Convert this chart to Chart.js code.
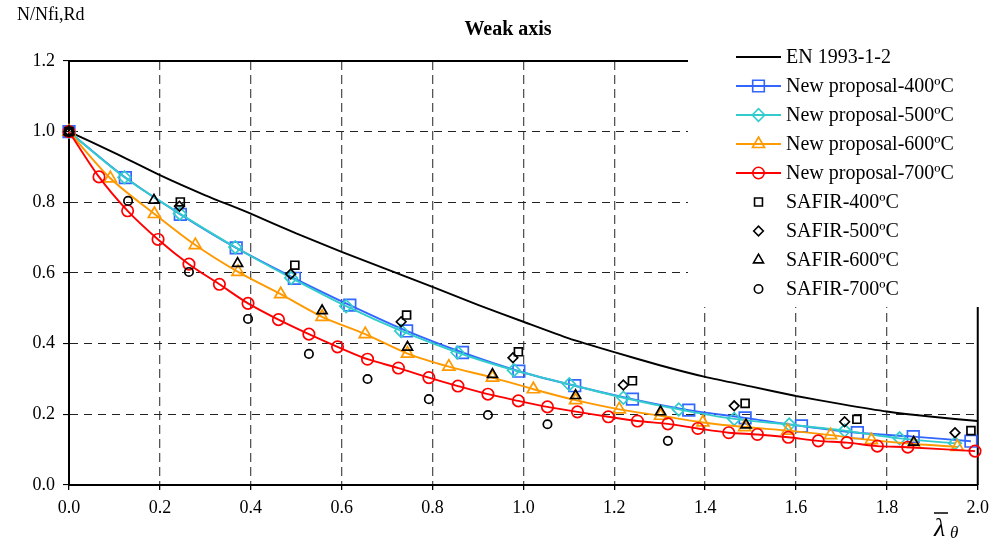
<!DOCTYPE html>
<html>
<head>
<meta charset="utf-8">
<script src="https://cdn.jsdelivr.net/npm/chart.js@4.4.1/dist/chart.umd.min.js"></script>
<style>
  body { margin: 0; background: #fff; }
</style>
</head>
<body>
<canvas id="weakAxisChart" width="996" height="542"></canvas>
<script>
// Dados
const enX = [0, 0.1, 0.2, 0.3, 0.4, 0.5, 0.6, 0.7, 0.8, 0.9, 1.0, 1.1, 1.2, 1.3, 1.4, 1.5, 1.6, 1.7, 1.8, 1.9, 2.0];
const enY = [1.0, 0.94, 0.877, 0.82, 0.768, 0.712, 0.66, 0.61, 0.561, 0.51, 0.462, 0.415, 0.376, 0.339, 0.306, 0.279, 0.252, 0.229, 0.208, 0.193, 0.181];

const np400X = [0, 0.124, 0.245, 0.368, 0.496, 0.618, 0.743, 0.866, 0.99, 1.113, 1.24, 1.364, 1.488, 1.612, 1.735, 1.858, 1.985];
const np400Y = [1.0, 0.87, 0.766, 0.671, 0.585, 0.509, 0.436, 0.375, 0.322, 0.281, 0.243, 0.212, 0.19, 0.167, 0.148, 0.137, 0.124];

const np500X = [0, 0.122, 0.244, 0.366, 0.489, 0.61, 0.731, 0.855, 0.979, 1.101, 1.22, 1.342, 1.464, 1.585, 1.707, 1.828, 1.95];
const np500Y = [1.0, 0.871, 0.768, 0.673, 0.586, 0.506, 0.436, 0.375, 0.325, 0.285, 0.247, 0.214, 0.187, 0.171, 0.154, 0.132, 0.118];

const np600X = [0, 0.091, 0.188, 0.278, 0.372, 0.466, 0.557, 0.652, 0.745, 0.836, 0.932, 1.022, 1.115, 1.211, 1.302, 1.395, 1.487, 1.582, 1.676, 1.766, 1.86, 1.955];
const np600Y = [1.0, 0.868, 0.767, 0.679, 0.603, 0.54, 0.476, 0.427, 0.372, 0.335, 0.304, 0.271, 0.24, 0.214, 0.196, 0.177, 0.164, 0.154, 0.141, 0.127, 0.116, 0.108];

const np700X = [0, 0.066, 0.129, 0.196, 0.264, 0.331, 0.394, 0.461, 0.528, 0.591, 0.657, 0.725, 0.792, 0.856, 0.922, 0.989, 1.053, 1.119, 1.187, 1.251, 1.318, 1.384, 1.452, 1.515, 1.583, 1.649, 1.712, 1.779, 1.846, 1.994];
const np700Y = [1.0, 0.872, 0.776, 0.695, 0.625, 0.568, 0.514, 0.468, 0.427, 0.391, 0.356, 0.331, 0.304, 0.28, 0.257, 0.238, 0.221, 0.207, 0.193, 0.181, 0.173, 0.16, 0.148, 0.143, 0.135, 0.125, 0.12, 0.11, 0.107, 0.096];

const safir400X = [0, 0.245, 0.497, 0.743, 0.989, 1.24, 1.488, 1.734, 1.985];
const safir400Y = [1.0, 0.801, 0.622, 0.481, 0.377, 0.295, 0.231, 0.186, 0.154];

const safir500X = [0, 0.243, 0.488, 0.731, 0.977, 1.22, 1.464, 1.707, 1.95];
const safir500Y = [1.0, 0.789, 0.597, 0.462, 0.36, 0.283, 0.224, 0.179, 0.148];

const safir600X = [0, 0.187, 0.371, 0.557, 0.745, 0.932, 1.115, 1.302, 1.49, 1.859];
const safir600Y = [1.0, 0.806, 0.627, 0.493, 0.39, 0.313, 0.253, 0.207, 0.17, 0.121];

const safir700X = [0, 0.13, 0.264, 0.394, 0.528, 0.657, 0.792, 0.922, 1.053, 1.318];
const safir700Y = [1.0, 0.804, 0.603, 0.47, 0.371, 0.3, 0.243, 0.198, 0.172, 0.125];

const xTicks = [0, 0.2, 0.4, 0.6, 0.8, 1.0, 1.2, 1.4, 1.6, 1.8, 2.0];
const yTicks = [0, 0.2, 0.4, 0.6, 0.8, 1.0, 1.2];

const serif = "'Liberation Serif', 'Times New Roman', serif";

function pts(xs, ys) {
  return xs.map((x, i) => ({ x: x, y: ys[i] }));
}

function curve(label, xs, ys, color, style, r, order) {
  return {
    label: label,
    data: pts(xs, ys),
    borderColor: color,
    backgroundColor: "transparent",
    borderWidth: 1.9,
    pointStyle: style,
    pointRadius: r,
    pointBorderWidth: 1.7,
    pointBorderColor: color,
    pointBackgroundColor: "transparent",
    tension: 0.3,
    showLine: true,
    clip: false,
    order: order,
  };
}

function scatter(label, xs, ys, style, r) {
  return {
    label: label,
    data: pts(xs, ys),
    borderColor: "#000",
    backgroundColor: "transparent",
    pointStyle: style,
    pointRadius: r,
    pointBorderWidth: 1.7,
    pointBorderColor: "#000",
    pointBackgroundColor: "transparent",
    showLine: false,
    clip: false,
    order: 0,
  };
}

const datasets = [
  {
    label: "EN 1993-1-2",
    data: pts(enX, enY),
    borderColor: "#000",
    borderWidth: 1.9,
    pointRadius: 0,
    showLine: true,
    tension: 0.2,
    clip: false,
    order: 6,
  },
  curve("New proposal-400ºC", np400X, np400Y, "#3366FF", "rect", 8.2, 4),
  curve("New proposal-500ºC", np500X, np500Y, "#33CCCC", "rectRot", 6.3, 3),
  curve("New proposal-600ºC", np600X, np600Y, "#FF9900", "triangle", 7, 2),
  curve("New proposal-700ºC", np700X, np700Y, "#FF0000", "circle", 5.7, 1),
  scatter("SAFIR-400ºC", safir400X, safir400Y, "rect", 5.6),
  scatter("SAFIR-500ºC", safir500X, safir500Y, "rectRot", 4.8),
  scatter("SAFIR-600ºC", safir600X, safir600Y, "triangle", 5.8),
  scatter("SAFIR-700ºC", safir700X, safir700Y, "circle", 4.2),
];

// marcador simples para a legenda
function drawMarker(ctx, style, r, x, y) {
  ctx.beginPath();
  if (style === "rect") {
    const s = Math.SQRT1_2 * r;
    ctx.rect(x - s, y - s, 2 * s, 2 * s);
  } else if (style === "rectRot") {
    ctx.moveTo(x - r, y);
    ctx.lineTo(x, y - r);
    ctx.lineTo(x + r, y);
    ctx.lineTo(x, y + r);
    ctx.closePath();
  } else if (style === "triangle") {
    ctx.moveTo(x, y - r);
    ctx.lineTo(x + r * 0.866, y + r * 0.5);
    ctx.lineTo(x - r * 0.866, y + r * 0.5);
    ctx.closePath();
  } else {
    ctx.arc(x, y, r, 0, Math.PI * 2);
  }
  ctx.stroke();
}

const decorPlugin = {
  id: "decor",
  beforeDatasetsDraw(chart) {
    const { ctx, chartArea } = chart;
    ctx.save();
    ctx.strokeStyle = "#000";
    ctx.lineWidth = 2;
    ctx.beginPath();
    ctx.moveTo(chartArea.left, chartArea.top);
    ctx.lineTo(chartArea.right, chartArea.top);
    ctx.moveTo(chartArea.right, chartArea.top);
    ctx.lineTo(chartArea.right, chartArea.bottom);
    ctx.stroke();
    // caixa branca da legenda por cima da grelha
    ctx.fillStyle = "#fff";
    ctx.fillRect(688, 0, 996 - 688, 307);
    ctx.restore();
  },
  afterDraw(chart) {
    const { ctx } = chart;
    ctx.save();
    ctx.fillStyle = "#000";
    ctx.textBaseline = "middle";

    ctx.font = "18px " + serif;
    ctx.textAlign = "left";
    ctx.fillText("N/Nfi,Rd", 17, 15);

    ctx.font = "bold 20px " + serif;
    ctx.textAlign = "center";
    ctx.fillText("Weak axis", 508, 30);

    // titulo do eixo x
    ctx.textAlign = "left";
    ctx.textBaseline = "alphabetic";
    ctx.font = "italic 26px " + serif;
    ctx.fillText("λ", 934, 536);
    ctx.font = "italic 17px " + serif;
    ctx.fillText("θ", 950, 538);
    ctx.strokeStyle = "#000";
    ctx.lineWidth = 1.5;
    ctx.beginPath();
    ctx.moveTo(934, 513);
    ctx.lineTo(948, 513);
    ctx.stroke();

    // legenda
    ctx.font = "20px " + serif;
    ctx.textBaseline = "middle";
    chart.data.datasets.forEach((ds, i) => {
      const y = 57 + i * 29;
      ctx.strokeStyle = ds.borderColor;
      ctx.lineWidth = 1.8;
      if (ds.showLine) {
        ctx.beginPath();
        ctx.moveTo(736, y);
        ctx.lineTo(781, y);
        ctx.stroke();
      }
      if (ds.pointRadius) {
        ctx.lineWidth = 1.6;
        drawMarker(ctx, ds.pointStyle, ds.pointRadius, 758.5, y);
      }
      ctx.fillStyle = "#000";
      ctx.fillText(ds.label, 786, y + 1);
    });
    ctx.restore();
  },
};

const ctx = document.getElementById("weakAxisChart").getContext("2d");

new Chart(ctx, {
  type: "scatter",
  data: { datasets: datasets },
  plugins: [decorPlugin],
  options: {
    responsive: false,
    animation: false,
    events: [],
    layout: { padding: { top: 61, right: 14, left: 0, bottom: 0 } },
    plugins: {
      legend: { display: false },
      title: { display: false },
      tooltip: { enabled: false },
    },
    scales: {
      x: {
        type: "linear",
        min: 0,
        max: 2,
        afterFit: (s) => { s.height = 57; },
        afterBuildTicks: (s) => { s.ticks = xTicks.map((v) => ({ value: v })); },
        ticks: {
          callback: (v) => v.toFixed(1),
          color: "#000",
          font: { family: serif, size: 18 },
          padding: 7,
          maxRotation: 0,
        },
        grid: {
          color: (c) => (c.tick && (c.tick.value === 0 || c.tick.value === 2) ? "transparent" : "#555"),
          lineWidth: 1.3,
          tickColor: "#000",
          tickLength: 5,
          tickBorderDash: [],
        },
        border: { display: true, color: "#000", width: 2, dash: [9, 5] },
      },
      y: {
        type: "linear",
        min: 0,
        max: 1.2,
        afterFit: (s) => { s.width = 69; },
        afterBuildTicks: (s) => { s.ticks = yTicks.map((v) => ({ value: v })); },
        ticks: {
          callback: (v) => v.toFixed(1),
          color: "#000",
          font: { family: serif, size: 18 },
          padding: 8,
        },
        grid: {
          color: (c) => (c.tick && (c.tick.value === 0 || c.tick.value === 1.2) ? "transparent" : "#222"),
          lineWidth: 1.1,
          tickColor: "#000",
          tickLength: 6,
          tickBorderDash: [],
        },
        border: { display: true, color: "#000", width: 2, dash: [8, 6] },
      },
    },
  },
});
</script>
</body>
</html>
